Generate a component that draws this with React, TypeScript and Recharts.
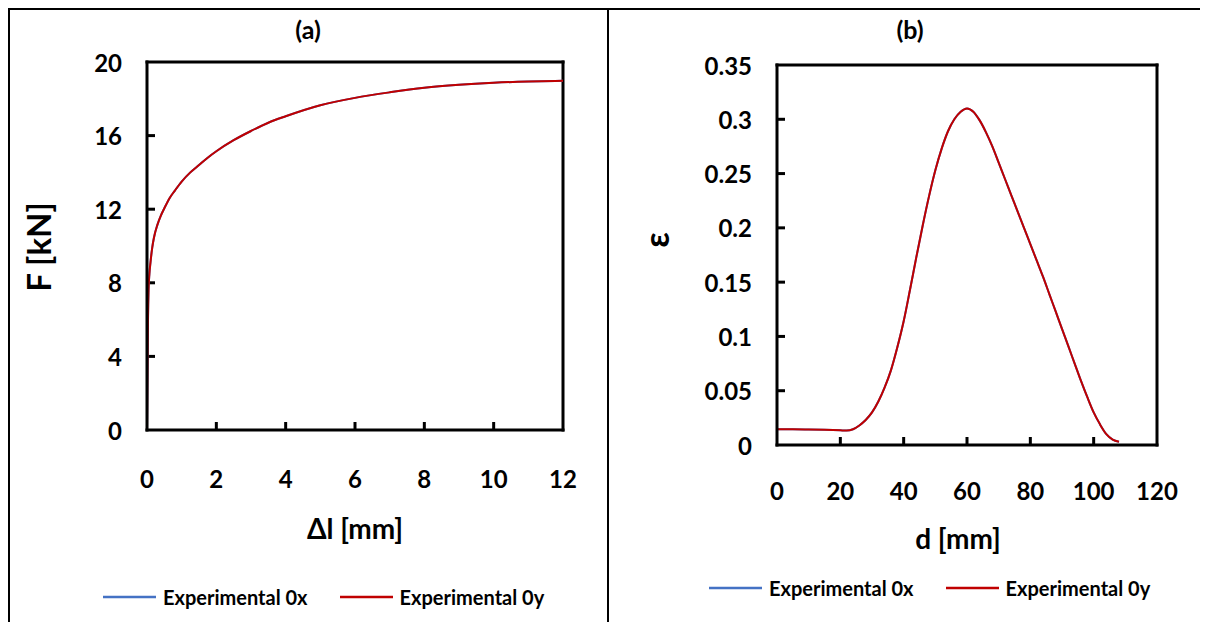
import React from 'react';
import { LineChart, Line, XAxis, YAxis, Label, ReferenceLine } from 'recharts';

const FONT = 'Lato, "Noto Sans", sans-serif';
const BLUE = '#4472C4';
const RED = '#C00000';

// Panel (a): force F [kN] against elongation Δl [mm]
const elongation = [0, 0.01, 0.02, 0.03, 0.045, 0.07, 0.1, 0.15, 0.2, 0.3, 0.4, 0.5, 0.65, 0.8, 1, 1.25, 1.5, 1.75, 2, 2.5, 3, 3.5, 4, 5, 6, 7, 8, 9, 10, 11, 12];
const force0x = [0, 2.2, 4.3, 6.2, 7.6, 8.5, 9.1, 9.9, 10.45, 11.15, 11.65, 12.05, 12.6, 13.0, 13.5, 14.0, 14.4, 14.8, 15.15, 15.75, 16.25, 16.7, 17.05, 17.65, 18.05, 18.35, 18.6, 18.76, 18.87, 18.94, 18.98];
const force0y = [0, 2.2, 4.3, 6.2, 7.6, 8.5, 9.1, 9.9, 10.45, 11.15, 11.65, 12.05, 12.6, 13.0, 13.5, 14.0, 14.4, 14.8, 15.15, 15.75, 16.25, 16.7, 17.05, 17.65, 18.05, 18.35, 18.6, 18.76, 18.87, 18.94, 18.98];
const elongationTicks = [0, 2, 4, 6, 8, 10, 12];
const forceTicks = [0, 4, 8, 12, 16, 20];

// Panel (b): strain ε against distance d [mm]
const distance = [0, 5, 10, 15, 20, 22, 24, 26, 28, 30, 32, 34, 36, 38, 40, 42, 44, 46, 48, 50, 52, 54, 56, 58, 60, 62, 64, 66, 68, 70, 72, 74, 76, 78, 80, 82, 84, 86, 88, 90, 92, 94, 96, 98, 100, 102, 104, 106, 108];
const strain0x = [0.0145, 0.0145, 0.0143, 0.014, 0.0135, 0.0133, 0.0145, 0.018, 0.023, 0.030, 0.040, 0.053, 0.069, 0.090, 0.114, 0.143, 0.173, 0.202, 0.229, 0.253, 0.273, 0.289, 0.300, 0.307, 0.310, 0.307, 0.299, 0.288, 0.275, 0.260, 0.245, 0.230, 0.215, 0.200, 0.185, 0.170, 0.155, 0.139, 0.123, 0.107, 0.091, 0.075, 0.059, 0.044, 0.030, 0.019, 0.010, 0.005, 0.003];
const strain0y = [0.0145, 0.0145, 0.0143, 0.014, 0.0135, 0.0133, 0.0145, 0.018, 0.023, 0.030, 0.040, 0.053, 0.069, 0.090, 0.114, 0.143, 0.173, 0.202, 0.229, 0.253, 0.273, 0.289, 0.300, 0.307, 0.310, 0.307, 0.299, 0.288, 0.275, 0.260, 0.245, 0.230, 0.215, 0.200, 0.185, 0.170, 0.155, 0.139, 0.123, 0.107, 0.091, 0.075, 0.059, 0.044, 0.030, 0.019, 0.010, 0.005, 0.003];
const distanceTicks = [0, 20, 40, 60, 80, 100, 120];
const strainTicks = [0, 0.05, 0.1, 0.15, 0.2, 0.25, 0.3, 0.35];

const seriesNames = ['Experimental 0x', 'Experimental 0y'];
const seriesColors = [BLUE, RED];

const toRows = (xs: number[], ys: number[]) => xs.map((x, i) => ({ x, y: ys[i] }));

const panelA = [toRows(elongation, force0x), toRows(elongation, force0y)];
const panelB = [toRows(distance, strain0x), toRows(distance, strain0y)];

const AXIS = { stroke: '#000', strokeWidth: 3, strokeLinecap: 'square' as const };
const TICK_LEN = 8;
const X_AXIS_H = 60;
const Y_AXIS_W = 80;

const bottomTick = (axisY: number, gap: number) => (props: any) => {
  const { x, payload } = props;
  return (
    <text x={x} y={axisY + gap} textAnchor="middle" dominantBaseline="central"
      fontFamily={FONT} fontWeight={700} fontSize={24} fill="#000">{payload.value}</text>
  );
};

const leftTick = (axisX: number, gap: number) => (props: any) => {
  const { y, payload } = props;
  return (
    <text x={axisX - gap} y={y} textAnchor="end" dominantBaseline="central"
      fontFamily={FONT} fontWeight={700} fontSize={24} fill="#000">{payload.value}</text>
  );
};

const textAt = (txt: string, x: number, y: number, size: number, rotate = false) => () => (
  <text x={x} y={y} textAnchor="middle" dominantBaseline="central"
    transform={rotate ? `rotate(-90 ${x} ${y})` : undefined}
    fontFamily={FONT} fontWeight={700} fontSize={size} fill="#000">{txt}</text>
);

type PanelProps = {
  width: number;
  height: number;
  margin: { top: number; right: number; bottom: number; left: number };
  series: { x: number; y: number }[][];
  xDomain: [number, number];
  yDomain: [number, number];
  xTicks: number[];
  yTicks: number[];
  xGap: number;
  yGap: number;
  title: { text: string; x: number; y: number };
  xTitle: { text: string; x: number; y: number };
  yTitle: { text: string; x: number; y: number; size: number };
};

function Panel(p: PanelProps) {
  const plotLeft = p.margin.left + Y_AXIS_W;
  const plotBottom = p.height - p.margin.bottom - X_AXIS_H;
  const plotW = p.width - plotLeft - p.margin.right;
  const plotH = plotBottom - p.margin.top;
  // inward tick length expressed along each axis
  const dxTick = ((p.xDomain[1] - p.xDomain[0]) * TICK_LEN) / plotW;
  const dyTick = ((p.yDomain[1] - p.yDomain[0]) * TICK_LEN) / plotH;
  const innerX = p.xTicks.slice(1, -1);
  const innerY = p.yTicks.slice(1, -1);
  return (
    <LineChart width={p.width} height={p.height} margin={p.margin}>
      <XAxis xAxisId="b" dataKey="x" type="number" domain={p.xDomain} ticks={p.xTicks}
        allowDataOverflow interval={0} axisLine={AXIS} tickLine={false}
        tick={bottomTick(plotBottom, p.xGap)} height={X_AXIS_H}>
        <Label content={textAt(p.xTitle.text, p.xTitle.x, p.xTitle.y, 28)} />
        <Label content={textAt(p.title.text, p.title.x, p.title.y, 25)} />
      </XAxis>
      <YAxis yAxisId="l" type="number" domain={p.yDomain} ticks={p.yTicks} allowDataOverflow
        interval={0} axisLine={AXIS} tickLine={false}
        tick={leftTick(plotLeft, p.yGap)} width={Y_AXIS_W}>
        <Label content={textAt(p.yTitle.text, p.yTitle.x, p.yTitle.y, p.yTitle.size, true)} />
      </YAxis>
      {/* closing edges of the plot frame */}
      <ReferenceLine xAxisId="b" yAxisId="l" x={p.xDomain[1]} stroke="#000" strokeWidth={3} strokeLinecap="square" />
      <ReferenceLine xAxisId="b" yAxisId="l" y={p.yDomain[1]} stroke="#000" strokeWidth={3} strokeLinecap="square" />
      {/* inward tick marks */}
      {innerX.map((v) => (
        <ReferenceLine key={`xt${v}`} xAxisId="b" yAxisId="l" stroke="#000" strokeWidth={3}
          segment={[{ x: v, y: p.yDomain[0] }, { x: v, y: p.yDomain[0] + dyTick }]} />
      ))}
      {innerY.map((v) => (
        <ReferenceLine key={`yt${v}`} xAxisId="b" yAxisId="l" stroke="#000" strokeWidth={3}
          segment={[{ x: p.xDomain[0], y: v }, { x: p.xDomain[0] + dxTick, y: v }]} />
      ))}
      {p.series.map((rows, i) => (
        <Line key={seriesNames[i]} xAxisId="b" yAxisId="l" data={rows} dataKey="y" name={seriesNames[i]}
          type="monotone" stroke={seriesColors[i]} strokeWidth={2} dot={false}
          isAnimationActive={false} />
      ))}
    </LineChart>
  );
}

function LegendRow({ left, top, gap }: { left: number; top: number; gap: number }) {
  return (
    <div style={{ position: 'absolute', left, top, display: 'flex', alignItems: 'center', height: 24 }}>
      {seriesNames.map((name, i) => (
        <div key={name} style={{ display: 'flex', alignItems: 'center', marginRight: i === 0 ? gap : 0 }}>
          <svg width={53} height={6} style={{ display: 'block' }}>
            <line x1={0} y1={3} x2={53} y2={3} stroke={seriesColors[i]} strokeWidth={2.5} />
          </svg>
          <span style={{ marginLeft: 7, fontFamily: FONT, fontWeight: 700, fontSize: 20, color: '#000', whiteSpace: 'nowrap' }}>
            {name}
          </span>
        </div>
      ))}
    </div>
  );
}

export default function App() {
  return (
    <div style={{ position: 'relative', width: 1200, height: 614, background: '#fff', overflow: 'hidden' }}>
      <div style={{ position: 'absolute', left: 0, top: 0, width: 1200, height: 2, background: '#000' }} />
      <div style={{ position: 'absolute', left: 0, top: 0, width: 2, height: 614, background: '#000' }} />
      <div style={{ position: 'absolute', left: 599, top: 0, width: 2, height: 614, background: '#000' }} />

      <div style={{ position: 'absolute', left: 0, top: 0 }}>
        <Panel
          width={600} height={614}
          margin={{ top: 54, right: 45, bottom: 132, left: 59 }}
          series={panelA}
          xDomain={[0, 12]} yDomain={[0, 20]}
          xTicks={elongationTicks} yTicks={forceTicks}
          xGap={48} yGap={25}
          title={{ text: '(a)', x: 300, y: 21 }}
          xTitle={{ text: 'Δl [mm]', x: 347, y: 520 }}
          yTitle={{ text: 'F [kN]', x: 30, y: 239, size: 33 }}
        />
      </div>
      <LegendRow left={95} top={577} gap={32} />

      <div style={{ position: 'absolute', left: 602, top: 0 }}>
        <Panel
          width={598} height={614}
          margin={{ top: 57, right: 51, bottom: 117, left: 87 }}
          series={panelB}
          xDomain={[0, 120]} yDomain={[0, 0.35]}
          xTicks={distanceTicks} yTicks={strainTicks}
          xGap={45} yGap={25}
          title={{ text: '(b)', x: 300, y: 21 }}
          xTitle={{ text: 'd [mm]', x: 348, y: 530 }}
          yTitle={{ text: 'ε', x: 45, y: 232, size: 34 }}
        />
      </div>
      <LegendRow left={701} top={568} gap={32} />
    </div>
  );
}
